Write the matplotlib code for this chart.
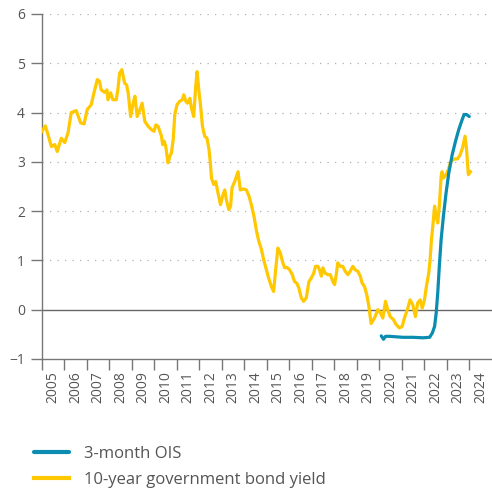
import matplotlib
matplotlib.use("Agg")
import matplotlib.pyplot as plt
import numpy as np

plt.rcParams['font.family'] = ['Open Sans', 'DejaVu Sans']

# 10-year government bond yield (decimal year, percent)
bond_x = [2005.01, 2005.16, 2005.28, 2005.43, 2005.58, 2005.69, 2005.87, 2006.02,
          2006.17, 2006.31, 2006.53, 2006.73, 2006.88, 2007.02, 2007.20, 2007.32,
          2007.47, 2007.57, 2007.64, 2007.79, 2007.90, 2007.94, 2008.06, 2008.16,
          2008.31, 2008.38, 2008.46, 2008.56, 2008.68, 2008.77, 2008.84, 2008.95,
          2009.06, 2009.14, 2009.24, 2009.36, 2009.46, 2009.58, 2009.73, 2009.88,
          2009.99, 2010.07, 2010.17, 2010.32, 2010.37, 2010.44, 2010.51, 2010.61,
          2010.69, 2010.76, 2010.84, 2010.91, 2011.01, 2011.13, 2011.24, 2011.31,
          2011.40, 2011.47, 2011.58, 2011.65, 2011.75, 2011.84, 2011.90, 2011.99,
          2012.06, 2012.14, 2012.24, 2012.34, 2012.43, 2012.49, 2012.54, 2012.64,
          2012.73, 2012.83, 2012.94, 2013.03, 2013.13, 2013.20, 2013.31, 2013.39,
          2013.45, 2013.57, 2013.72, 2013.82, 2013.97, 2014.09, 2014.21, 2014.31,
          2014.43, 2014.53, 2014.64, 2014.76, 2014.86, 2014.98, 2015.08, 2015.20,
          2015.30, 2015.39, 2015.49, 2015.60, 2015.69, 2015.79, 2015.89, 2016.01,
          2016.13, 2016.23, 2016.33, 2016.42, 2016.53, 2016.63, 2016.75, 2016.87,
          2016.97, 2017.08, 2017.16, 2017.27, 2017.34, 2017.42, 2017.49, 2017.59,
          2017.71, 2017.82, 2017.93, 2018.01, 2018.08, 2018.15, 2018.26, 2018.37,
          2018.48, 2018.60, 2018.70, 2018.82, 2018.92, 2019.04, 2019.15, 2019.23,
          2019.34, 2019.44, 2019.53, 2019.63, 2019.78, 2019.93, 2020.05, 2020.15,
          2020.27, 2020.37, 2020.48, 2020.62, 2020.74, 2020.89, 2021.01, 2021.11,
          2021.26, 2021.36, 2021.48, 2021.60, 2021.70, 2021.81, 2021.90, 2022.00,
          2022.10, 2022.19, 2022.25, 2022.31, 2022.37, 2022.45, 2022.52, 2022.59,
          2022.66, 2022.74, 2022.78, 2022.84, 2022.96, 2023.06, 2023.15, 2023.25,
          2023.37, 2023.47, 2023.58, 2023.69, 2023.80, 2023.87, 2023.95, 2024.04]
bond_y = [3.62, 3.73, 3.55, 3.31, 3.35, 3.21, 3.48, 3.39,
          3.59, 4.00, 4.04, 3.79, 3.77, 4.06, 4.16, 4.40,
          4.67, 4.63, 4.46, 4.41, 4.46, 4.26, 4.40, 4.26,
          4.26, 4.46, 4.80, 4.87, 4.60, 4.56, 4.40, 3.92,
          4.19, 4.33, 3.92, 4.06, 4.19, 3.82, 3.72, 3.65,
          3.62, 3.75, 3.72, 3.52, 3.35, 3.42, 3.31, 2.98,
          3.11, 3.18, 3.45, 3.96, 4.16, 4.23, 4.26, 4.36,
          4.23, 4.19, 4.29, 4.09, 3.92, 4.53, 4.83, 4.40,
          4.12, 3.72, 3.52, 3.48, 3.25, 2.98, 2.67, 2.54,
          2.60, 2.37, 2.13, 2.30, 2.43, 2.23, 2.03, 2.10,
          2.47, 2.60, 2.80, 2.43, 2.45, 2.43, 2.30, 2.13,
          1.89, 1.62, 1.39, 1.22, 1.01, 0.81, 0.64, 0.47,
          0.37, 0.81, 1.25, 1.15, 0.98, 0.85, 0.86, 0.81,
          0.71, 0.57, 0.54, 0.44, 0.24, 0.17, 0.24, 0.57,
          0.64, 0.74, 0.88, 0.88, 0.81, 0.68, 0.85, 0.74,
          0.71, 0.71, 0.57, 0.51, 0.71, 0.95, 0.88, 0.88,
          0.78, 0.71, 0.78, 0.88, 0.81, 0.78, 0.68, 0.54,
          0.47, 0.30, 0.07, -0.28, -0.17, 0.00, -0.07, -0.17,
          0.17, 0.00, -0.14, -0.20, -0.30, -0.37, -0.34, -0.17,
          0.03, 0.20, 0.10, -0.14, 0.14, 0.20, 0.03, 0.20,
          0.51, 0.74, 1.01, 1.42, 1.69, 2.10, 1.89, 1.76,
          2.10, 2.70, 2.80, 2.67, 2.74, 2.84, 2.98, 3.04,
          3.06, 3.06, 3.14, 3.28, 3.52, 3.25, 2.74, 2.80]

# 3-month OIS
ois_x = [2020.08, 2020.18, 2020.27, 2020.45, 2020.74, 2021.04, 2021.48, 2021.93,
         2022.23, 2022.35, 2022.45, 2022.52, 2022.59, 2022.66, 2022.74, 2022.84,
         2022.96, 2023.08, 2023.23, 2023.38, 2023.52, 2023.67, 2023.76, 2023.87,
         2023.99]
ois_y = [-0.53, -0.60, -0.54, -0.54, -0.55, -0.56, -0.56, -0.57,
         -0.56, -0.47, -0.34, -0.07, 0.34, 0.88, 1.42, 1.89,
         2.37, 2.77, 3.14, 3.42, 3.65, 3.85, 3.96, 3.96,
         3.92]

years = list(range(2005, 2025))
yticks = [-1, 0, 1, 2, 3, 4, 5, 6]

BLUE = '#0a8db0'
YELLOW = '#ffc800'
GREY = '#555555'

fig = plt.figure(figsize=(4.92, 4.94), dpi=100)
ax = fig.add_axes([0.0848, 0.2733, 0.9152, 0.6984])

for v in yticks[2:]:
    ax.axhline(v, color='#b0b0b0', lw=0.9, ls=(0, (1, 5)), zorder=1)
ax.axhline(0, color='#666666', lw=1.0, zorder=2)

ax.plot(bond_x, bond_y, color=YELLOW, lw=2.3, solid_joinstyle='round',
        label='10-year government bond yield', zorder=3)
ax.plot(ois_x, ois_y, color=BLUE, lw=2.3, solid_joinstyle='round',
        solid_capstyle='round', label='3-month OIS', zorder=4)

ax.set_xlim(2005, 2025)
ax.set_ylim(-1, 6)

ax.spines['top'].set_visible(False)
ax.spines['right'].set_visible(False)
for s in ['left', 'bottom']:
    ax.spines[s].set_color('#777777')
    ax.spines[s].set_linewidth(1.0)

ax.set_yticks(yticks)
ax.set_yticklabels([('\u2212' + str(-v)) if v < 0 else str(v) for v in yticks])
ax.tick_params(axis='y', length=7.7, width=1.0, color='#777777', pad=4.5,
               labelsize=10, labelcolor=GREY)

ax.set_xticks(years)
ax.set_xticklabels([])
ax.set_xticks([y + 0.5 for y in years[:-1]] + [2024.5], minor=True)
ax.set_xticklabels([str(y) for y in years], minor=True, rotation=90)
ax.tick_params(axis='x', which='major', length=7.7, width=1.0, color='#777777')
ax.tick_params(axis='x', which='minor', length=0, pad=9, labelsize=10,
               labelcolor=GREY)

handles, labels = ax.get_legend_handles_labels()
leg = fig.legend(handles[::-1], labels[::-1], loc='upper left',
                 bbox_to_anchor=(0.07, 0.098), frameon=False, fontsize=12,
                 handlelength=2.05, handletextpad=0.9, labelspacing=0.62,
                 borderaxespad=0, borderpad=0)
for t in leg.get_texts():
    t.set_color(GREY)
for h in leg.get_lines():
    h.set_linewidth(3)

fig.savefig('out.png', dpi=100)
